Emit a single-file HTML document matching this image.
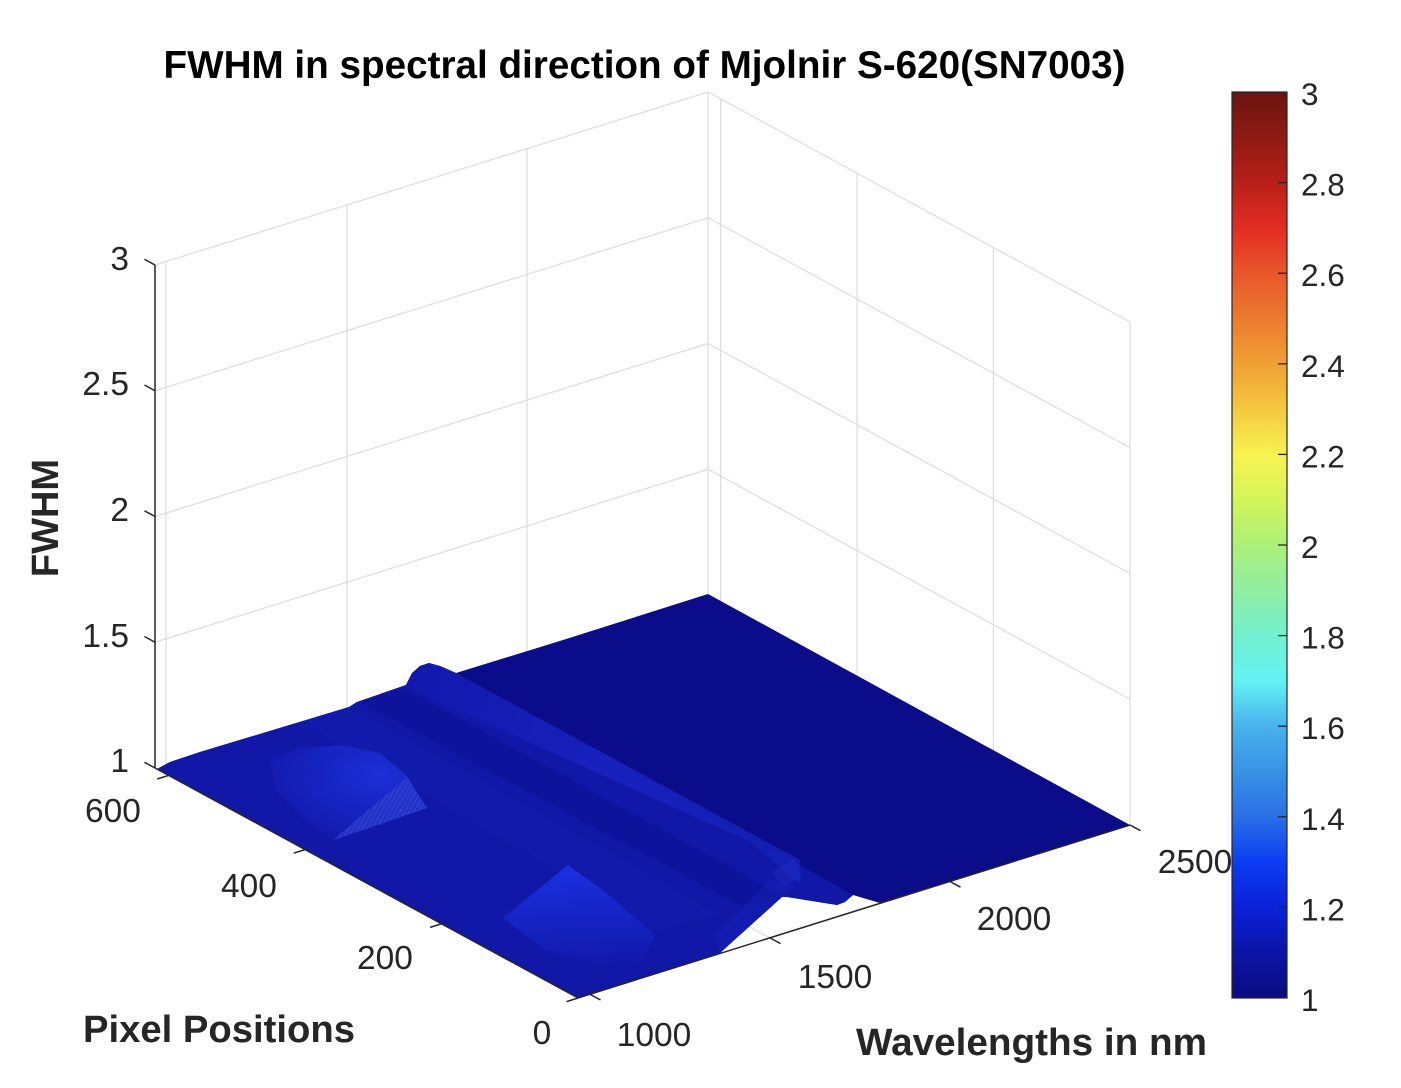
<!DOCTYPE html>
<html>
<head>
<meta charset="utf-8">
<style>
html,body{margin:0;padding:0;background:#fff;}
body{width:1401px;height:1088px;overflow:hidden;}
svg{display:block;}
text{font-family:"Liberation Sans",Arial,Helvetica,sans-serif;}
</style>
</head>
<body>
<svg width="1401" height="1088" viewBox="0 0 1401 1088" xmlns="http://www.w3.org/2000/svg">
<defs>
  <linearGradient id="cbar" x1="0" y1="0" x2="0" y2="1">
    <stop offset="0" stop-color="#6b1410"/>
    <stop offset="0.05" stop-color="#901a12"/>
    <stop offset="0.10" stop-color="#b81f18"/>
    <stop offset="0.15" stop-color="#e22c22"/>
    <stop offset="0.20" stop-color="#e8562a"/>
    <stop offset="0.25" stop-color="#ec7a2e"/>
    <stop offset="0.30" stop-color="#efa034"/>
    <stop offset="0.35" stop-color="#f4c840"/>
    <stop offset="0.40" stop-color="#f8f350"/>
    <stop offset="0.45" stop-color="#d4f45a"/>
    <stop offset="0.50" stop-color="#acf078"/>
    <stop offset="0.55" stop-color="#90eea2"/>
    <stop offset="0.60" stop-color="#72f0d0"/>
    <stop offset="0.65" stop-color="#64f2f4"/>
    <stop offset="0.70" stop-color="#48b2ec"/>
    <stop offset="0.75" stop-color="#3892e6"/>
    <stop offset="0.80" stop-color="#2a70e6"/>
    <stop offset="0.85" stop-color="#0c3cf2"/>
    <stop offset="0.90" stop-color="#0a22d8"/>
    <stop offset="0.95" stop-color="#0b14a6"/>
    <stop offset="1" stop-color="#0b0b80"/>
  </linearGradient>
  <clipPath id="surfclip">
    <polygon points="157,769 170,762 200,752 349,707 357,702 406,685 412,673 420,666 429,663 440,666 456,673 563,640 708,594 1130,825 880,903 853,895 845,902 837,905 787,897 782,897 720,953 600,991 578,998"/>
  </clipPath>
  <linearGradient id="ridge" x1="0" y1="0" x2="1" y2="0.2">
    <stop offset="0" stop-color="#1218ac"/>
    <stop offset="0.6" stop-color="#1822c0"/>
    <stop offset="1" stop-color="#1420b6"/>
  </linearGradient>
  <radialGradient id="patchA" cx="0.7" cy="0.3" r="0.8">
    <stop offset="0" stop-color="#1c2ed6"/>
    <stop offset="1" stop-color="#1219aa"/>
  </radialGradient>
  <linearGradient id="patchB" x1="0.4" y1="0" x2="0.5" y2="1">
    <stop offset="0" stop-color="#1a30e2"/>
    <stop offset="1" stop-color="#1219aa"/>
  </linearGradient>
  <pattern id="hatch" width="4" height="4" patternUnits="userSpaceOnUse" patternTransform="rotate(30)">
    <rect width="4" height="4" fill="#2636c8"/>
    <line x1="0" y1="0" x2="0" y2="4" stroke="#4a5ae0" stroke-width="1"/>
  </pattern>
</defs>

<rect width="1401" height="1088" fill="#fff"/>

<!-- Grid lines -->
<g stroke="#dcdcdc" stroke-width="1.2" fill="none">
  <line x1="155" y1="642.25" x2="708" y2="469.25"/>
  <line x1="155" y1="516.5" x2="708" y2="343.5"/>
  <line x1="155" y1="390.75" x2="708" y2="217.75"/>
  <line x1="155" y1="265" x2="708" y2="92"/>
  <line x1="166" y1="764.6" x2="166" y2="261.6"/>
  <line x1="347" y1="708" x2="347" y2="205"/>
  <line x1="527" y1="651.6" x2="527" y2="148.6"/>
  <line x1="708" y1="595" x2="708" y2="92"/>
  <line x1="708" y1="469.25" x2="1130" y2="699.25"/>
  <line x1="708" y1="343.5" x2="1130" y2="573.5"/>
  <line x1="708" y1="217.75" x2="1130" y2="447.75"/>
  <line x1="708" y1="92" x2="1130" y2="322"/>
  <line x1="720.6" y1="602.4" x2="720.6" y2="99.4"/>
  <line x1="857.1" y1="676.6" x2="857.1" y2="173.6"/>
  <line x1="993.5" y1="750.8" x2="993.5" y2="247.8"/>
  <line x1="1130" y1="825" x2="1130" y2="322"/>
  <line x1="590" y1="994.3" x2="167" y2="764.3"/>
  <line x1="770" y1="938" x2="347" y2="708"/>
  <line x1="950" y1="881.5" x2="527" y2="651.5"/>
  <line x1="441.5" y1="923.8" x2="993.5" y2="750.8"/>
  <line x1="305" y1="849.6" x2="857" y2="676.6"/>
  <line x1="168.6" y1="775.4" x2="720.6" y2="602.4"/>
</g>

<!-- Surface -->
<g clip-path="url(#surfclip)">
  <rect x="140" y="580" width="1000" height="430" fill="#0a0c8a"/>
  <polygon points="140,700 456,640 456,673 880,910 560,1020 140,790" fill="#1117a6"/>
  <polygon points="360,702 404,688 790,900 740,905" fill="#0e139a" opacity="0.8"/>
  <polygon points="300,722 350,707 720,915 660,930" fill="#131cae" opacity="0.6"/>
  <polygon points="404,686 429,663 456,673 800,860 800,885 751,842" fill="url(#ridge)" opacity="0.9"/>
  <polygon points="270,760 300,748 340,745 380,753 407,776 427,808 334,841 300,815 275,790" fill="url(#patchA)"/>
  <polygon points="407,777 427,808 333,840" fill="url(#hatch)" opacity="0.85"/>
  <polygon points="568,865 605,892 655,935 642,960 600,966 545,950 503,918" fill="url(#patchB)"/>
  <polygon points="772,872 795,858 802,878 782,886" fill="#2030c8" opacity="0.4"/>
  <polygon points="720,953 783,897 795,885 770,880 715,935" fill="#1424c0" opacity="0.35"/>
</g>

<!-- Axis lines -->
<g stroke="#262626" stroke-width="1.5" fill="none">
  <line x1="155" y1="265" x2="155" y2="768"/>
  <line x1="155" y1="768" x2="578" y2="998"/>
  <line x1="578" y1="998" x2="1130" y2="825"/>
  <line x1="155" y1="265" x2="144.5" y2="259.3"/>
  <line x1="155" y1="390.75" x2="144.5" y2="385"/>
  <line x1="155" y1="516.5" x2="144.5" y2="510.8"/>
  <line x1="155" y1="642.25" x2="144.5" y2="636.5"/>
  <line x1="155" y1="768" x2="144.5" y2="762.3"/>
  <line x1="578" y1="998" x2="566.6" y2="1001.6"/>
  <line x1="441.5" y1="923.8" x2="430.1" y2="927.4"/>
  <line x1="305.1" y1="849.6" x2="293.7" y2="853.2"/>
  <line x1="168.6" y1="775.4" x2="157.2" y2="779"/>
  <line x1="590" y1="994.3" x2="600.5" y2="1000"/>
  <line x1="770" y1="937.9" x2="780.5" y2="943.6"/>
  <line x1="950" y1="881.5" x2="960.5" y2="887.2"/>
  <line x1="1130" y1="825" x2="1140.5" y2="830.7"/>
</g>

<!-- Title -->
<text x="644.5" y="78" text-anchor="middle" font-size="38.5" font-weight="bold" fill="#000" textLength="962" lengthAdjust="spacingAndGlyphs">FWHM in spectral direction of Mjolnir S-620(SN7003)</text>

<g font-size="33.5" fill="#262626" text-anchor="end">
  <text x="129" y="270">3</text>
  <text x="129" y="395">2.5</text>
  <text x="129" y="521">2</text>
  <text x="129" y="647">1.5</text>
  <text x="129" y="772">1</text>
</g>

<g font-size="33.5" fill="#262626" text-anchor="middle">
  <text x="113" y="822">600</text>
  <text x="249" y="897">400</text>
  <text x="385" y="969">200</text>
  <text x="542" y="1044">0</text>
</g>

<g font-size="33.5" fill="#262626" text-anchor="middle">
  <text x="654" y="1046">1000</text>
  <text x="835" y="988">1500</text>
  <text x="1014" y="930">2000</text>
  <text x="1195" y="873">2500</text>
</g>

<text x="83" y="1042" font-size="38" font-weight="bold" fill="#262626" textLength="272" lengthAdjust="spacingAndGlyphs">Pixel Positions</text>
<text x="856" y="1055" font-size="38" font-weight="bold" fill="#262626" textLength="351" lengthAdjust="spacingAndGlyphs">Wavelengths in nm</text>
<text transform="translate(58,518) rotate(-90)" text-anchor="middle" font-size="38" font-weight="bold" fill="#262626">FWHM</text>

<rect x="1232" y="92" width="55" height="906" fill="url(#cbar)" stroke="#262626" stroke-width="1.2"/>
<g stroke="#262626" stroke-width="1.3">
  <line x1="1278" y1="182.6" x2="1287" y2="182.6"/>
  <line x1="1278" y1="273.2" x2="1287" y2="273.2"/>
  <line x1="1278" y1="363.8" x2="1287" y2="363.8"/>
  <line x1="1278" y1="454.4" x2="1287" y2="454.4"/>
  <line x1="1278" y1="545" x2="1287" y2="545"/>
  <line x1="1278" y1="635.6" x2="1287" y2="635.6"/>
  <line x1="1278" y1="726.2" x2="1287" y2="726.2"/>
  <line x1="1278" y1="816.8" x2="1287" y2="816.8"/>
  <line x1="1278" y1="907.4" x2="1287" y2="907.4"/>
</g>
<g font-size="31.5" fill="#262626">
  <text x="1301" y="105">3</text>
  <text x="1301" y="195.6">2.8</text>
  <text x="1301" y="286.2">2.6</text>
  <text x="1301" y="376.8">2.4</text>
  <text x="1301" y="467.4">2.2</text>
  <text x="1301" y="558">2</text>
  <text x="1301" y="648.6">1.8</text>
  <text x="1301" y="739.2">1.6</text>
  <text x="1301" y="829.8">1.4</text>
  <text x="1301" y="920.4">1.2</text>
  <text x="1301" y="1011">1</text>
</g>
</svg>
</body>
</html>
